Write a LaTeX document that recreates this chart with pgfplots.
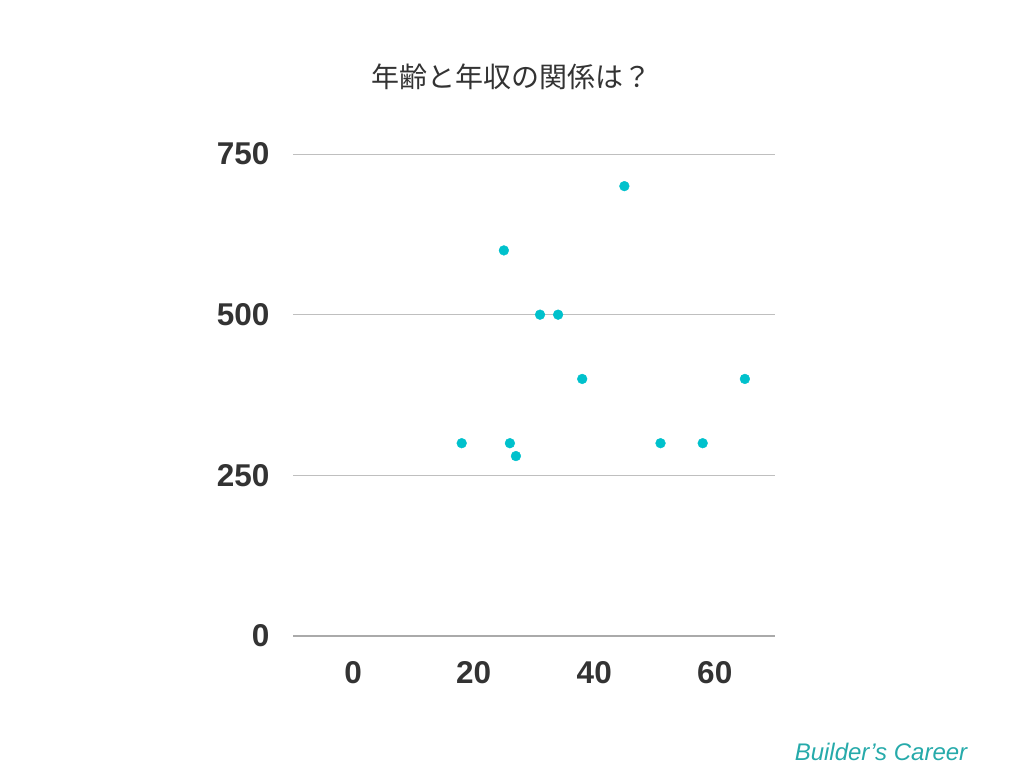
\documentclass[border=0pt]{standalone}
\usepackage{fontspec}
\setmainfont{Liberation Sans}
\newfontfamily\cjk{Noto Sans CJK JP}
\usepackage{pgfplots}
\pgfplotsset{compat=1.18}

\definecolor{pt}{RGB}{0,193,204}
\definecolor{grid}{RGB}{217,217,217}
\definecolor{base}{RGB}{170,170,170}
\definecolor{txt}{RGB}{51,51,51}
\definecolor{mark}{RGB}{38,170,170}

\pgfplotstableread{
age income
18 300
25 600
26 300
27 280
31 500
34 500
38 400
45 700
51 300
58 300
65 400
}\salary

\begin{document}
\begin{tikzpicture}[x=1pt,y=1pt]
\useasboundingbox (0,0) rectangle (1024,768);
\begin{axis}[
  at={(293pt,132pt)}, anchor=south west,
  scale only axis, width=482pt, height=482pt,
  xmin=-10, xmax=70, ymin=0, ymax=750,
  xtick={0,20,40,60}, ytick={0,250,500,750},
  axis x line*=bottom, axis y line*=left,
  x axis line style={base, line width=1.2pt, -},
  y axis line style={draw=none},
  xmajorgrids=false, ymajorgrids=true, grid style={grid, line width=0.8pt},
  major tick length=0pt,
  tick label style={font=\fontsize{31.5}{36}\selectfont\bfseries, text=txt},
  /pgf/number format/assume math mode=true,
  xticklabel style={yshift=-22pt},
  yticklabel style={xshift=-20pt},
  clip=false,
]
\addplot[only marks, mark=*, mark size=4.9pt, color=pt] table[x=age, y=income] {\salary};
\end{axis}
\node[text=txt, font=\cjk\fontsize{28}{32}\selectfont] at (511,691) {年齢と年収の関係は？};
\node[text=mark, font=\itshape\fontsize{24}{28}\selectfont] at (881,16) {Builder's Career};
\end{tikzpicture}
\end{document}
